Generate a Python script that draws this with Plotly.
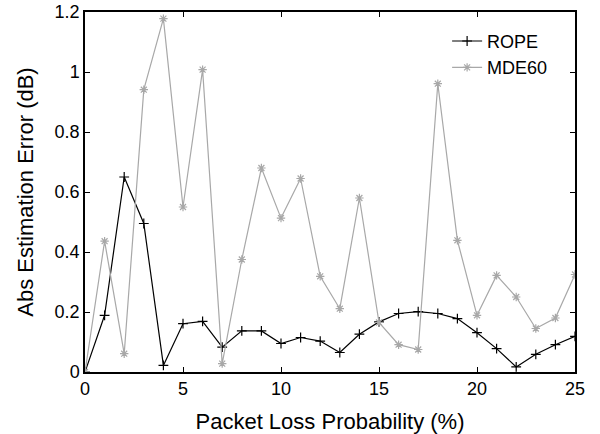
import plotly.graph_objects as go

x_vals = list(range(0, 26))
rope = [0.0, 0.189, 0.65, 0.495, 0.022, 0.161, 0.169, 0.083, 0.137, 0.137,
        0.095, 0.115, 0.103, 0.065, 0.126, 0.167, 0.195, 0.201, 0.195, 0.178,
        0.131, 0.078, 0.017, 0.059, 0.091, 0.119]
mde60 = [0.0, 0.436, 0.061, 0.941, 1.178, 0.55, 1.008, 0.028, 0.375, 0.68,
         0.513, 0.645, 0.319, 0.211, 0.58, 0.165, 0.091, 0.075, 0.961, 0.439,
         0.189, 0.322, 0.25, 0.145, 0.18, 0.325]

FONT = "Liberation Sans, Arial, Helvetica, sans-serif"

fig = go.Figure()
fig.add_trace(go.Scatter(
    x=x_vals, y=rope, name="ROPE", mode="lines+markers",
    line=dict(color="black", width=1.2),
    marker=dict(symbol="cross-thin", size=7, color="black",
                line=dict(color="black", width=1.2)),
))
fig.add_trace(go.Scatter(
    x=x_vals, y=mde60, name="MDE60", mode="lines+markers",
    line=dict(color="#a8a8a8", width=1.2),
    marker=dict(symbol="asterisk", size=7, color="#a8a8a8",
                line=dict(color="#a8a8a8", width=1.2)),
))

fig.update_layout(
    width=600, height=434,
    margin=dict(l=85, r=25, t=12, b=62),
    plot_bgcolor="white", paper_bgcolor="white",
    font=dict(family=FONT, size=18, color="black"),
    showlegend=True,
    legend=dict(x=0.739, y=0.97, xanchor="left", yanchor="top",
                bgcolor="rgba(0,0,0,0)", font=dict(size=18),
                tracegroupgap=0),
)
fig.update_xaxes(
    range=[0, 25], tickvals=[0, 5, 10, 15, 20, 25],
    ticks="inside", ticklen=5, tickwidth=1, tickcolor="black",
    showline=True, linecolor="black", linewidth=1.5, mirror="ticks",
    showgrid=False, zeroline=False, automargin=False,
    title=dict(text="Packet Loss Probability (%)"),
)
fig.update_yaxes(
    range=[0, 1.2], tickvals=[0, 0.2, 0.4, 0.6, 0.8, 1.0, 1.2],
    ticktext=["0", "0.2", "0.4", "0.6", "0.8", "1", "1.2"],
    ticks="inside", ticklen=5, tickwidth=1, tickcolor="black",
    showline=True, linecolor="black", linewidth=1.5, mirror="ticks",
    showgrid=False, zeroline=False, automargin=False,
    title=dict(text="Abs Estimation Error (dB)"),
)

fig.write_html("out.html",
               config={"displayModeBar": False},
               post_script="document.body.style.margin='0';document.body.style.overflow='hidden';")
